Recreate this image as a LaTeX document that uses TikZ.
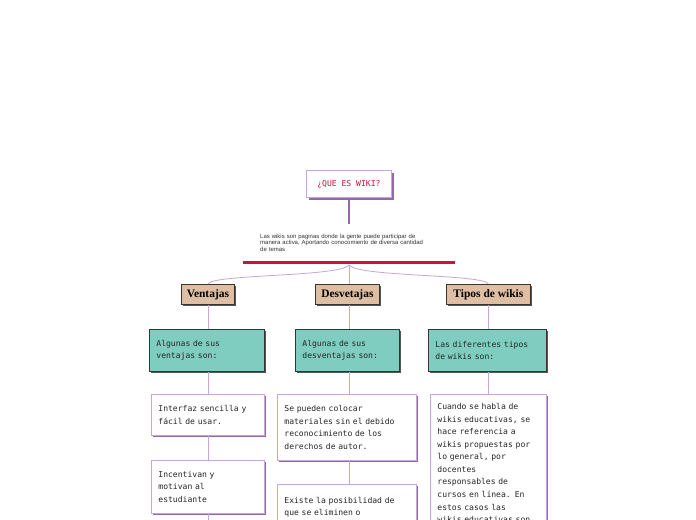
\documentclass[tikz,border=0pt]{standalone}
\usepackage{fontspec}
\setmainfont{Liberation Sans}
\newfontfamily\boxfont{DejaVu Sans Mono}
\newfontfamily\headfont{Liberation Serif}
\usetikzlibrary{shadows}
\definecolor{lilac}{HTML}{C6A6D8}
\definecolor{plum}{HTML}{9466AE}
\definecolor{crim}{HTML}{C8143C}
\definecolor{tanbox}{HTML}{DFBFA4}
\definecolor{tealbox}{HTML}{7ECDC0}
\definecolor{darkedge}{HTML}{3A3430}
\definecolor{darkshadow}{HTML}{555555}
\begin{document}
\begin{tikzpicture}[x=1bp,y=-1bp,
  boxtext/.style={font=\boxfont\fontsize{8.1}{12.6}\selectfont, text=black!85},
  wbox/.style={boxtext, draw=lilac, line width=0.8bp, fill=white, anchor=north west, align=left,
    inner xsep=7bp, inner ysep=9bp,
    drop shadow={shadow xshift=2bp, shadow yshift=-2bp, fill=plum, opacity=1}},
  tbox/.style={boxtext, draw=darkedge, line width=0.8bp, fill=tealbox, anchor=north west, align=left,
    inner xsep=7bp, inner ysep=9bp,
    drop shadow={shadow xshift=2bp, shadow yshift=-2bp, fill=darkshadow, opacity=1}},
  hbox/.style={font=\headfont\bfseries\fontsize{11.5}{12}\selectfont, draw=darkedge, line width=0.8bp,
    fill=tanbox, anchor=north west, inner sep=0pt, align=center,
    drop shadow={shadow xshift=2bp, shadow yshift=-2bp, fill=darkshadow, opacity=1}},
  conn/.style={draw=lilac, line width=0.8bp},
]
\useasboundingbox (0,0) rectangle (696,520);
\clip (0,0) rectangle (696,520);
\fill[white] (0,0) rectangle (696,520);

% title
\node[boxtext, draw=lilac, line width=0.8bp, fill=white, anchor=north west, text=crim,
  minimum width=85bp, minimum height=27bp, inner sep=0pt,
  drop shadow={shadow xshift=3bp, shadow yshift=-3bp, fill=plum, opacity=1}]
  (title) at (306,170) {¿QUE ES WIKI?};
\coordinate (stemend) at (349,224);
\draw[plum, line width=2bp] (title.south -| stemend) -- (stemend);

% description
\node[anchor=north west, align=left, inner sep=0pt, text width=215bp,
  font=\fontsize{6}{6.4}\selectfont, text=black!80] (desc) at (260,234)
  {Las wikis son paginas donde la gente puede participar de\\
   manera activa, Aportando conocomiento de diversa cantidad\\
   de temas};

% red bar
\coordinate (barL) at (243,262);
\coordinate (barR) at (455,262);
\draw[crim, line width=3bp] (barL) -- (barR);
\coordinate (hub) at (349,265);

% headings
\node[hbox, minimum width=53bp, minimum height=20bp] (hV) at (181,284) {Ventajas};
\node[hbox, minimum width=64bp, minimum height=20bp] (hD) at (315,284) {Desvetajas};
\node[hbox, minimum width=84bp, minimum height=20bp] (hT) at (446,284) {Tipos de wikis};

% teal boxes
\node[tbox, text width=101bp, minimum height=42bp] (tV) at (149,329)
  {Algunas de sus\\ventajas son:};
\node[tbox, text width=90bp, minimum height=42bp] (tD) at (295,329)
  {Algunas de sus\\desventajas son:};
\node[tbox, text width=104bp, minimum height=42bp] (tT) at (428,329)
  {Las diferentes tipos\\de wikis son:};

% white boxes
\node[wbox, text width=99bp, minimum height=41bp] (w1) at (151,394)
  {Interfaz sencilla y\\fácil de usar.};
\node[wbox, text width=99bp, minimum height=53bp] (w2) at (151,460)
  {Incentivan y\\motivan al\\estudiante};
\node[wbox, text width=125bp, minimum height=66bp] (w3) at (277,394)
  {Se pueden colocar\\materiales sin el debido\\reconocimiento de los\\derechos de autor.};
\node[wbox, text width=125bp, minimum height=60bp] (w4) at (277,484)
  {Existe la posibilidad de\\que se eliminen o\\\strut};
\node[wbox, text width=102bp, minimum height=150bp] (w5) at (430,394)
  {Cuando se habla de\\wikis educativas, se\\hace referencia a\\wikis propuestas por\\lo general, por\\docentes\\responsables de\\cursos en línea. En\\estos casos las\\wikis educativas son\\\strut};
\coordinate (w2end) at (208,530);

% connectors
\draw[conn] (hub) .. controls (340,277) and (212,274) .. (hV.north);
\draw[conn] (hub) -- (hub |- hD.north);
\draw[conn] (hub) .. controls (358,277) and (484,274) .. (hT.north);

\draw[conn] (hV.south -| w2end) -- (tV.north -| w2end);
\draw[conn] (tV.south -| w2end) -- (w1.north -| w2end);
\draw[conn] (w1.south -| w2end) -- (w2.north -| w2end);
\draw[conn] (w2.south -| w2end) -- (w2end);

\draw[conn] (hD.south -| hub) -- (tD.north -| hub);
\draw[conn] (tD.south -| hub) -- (w3.north -| hub);
\draw[conn] (w3.south -| hub) -- (w4.north -| hub);

\coordinate (rx) at (488,0);
\draw[conn] (hT.south -| rx) -- (tT.north -| rx);
\draw[conn] (tT.south -| rx) -- (w5.north -| rx);
\end{tikzpicture}
\end{document}
